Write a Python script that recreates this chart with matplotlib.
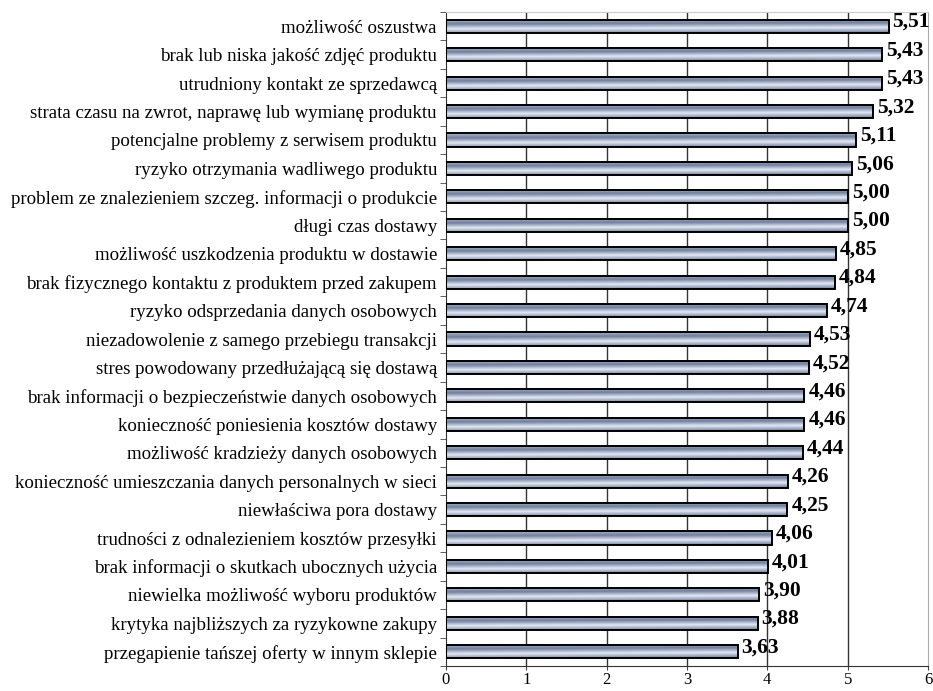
import matplotlib
matplotlib.use("Agg")
import matplotlib.pyplot as plt
import numpy as np
from matplotlib.patches import Rectangle

categories = [
    "możliwość oszustwa",
    "brak lub niska jakość zdjęć produktu",
    "utrudniony kontakt ze sprzedawcą",
    "strata czasu na zwrot, naprawę lub wymianę produktu",
    "potencjalne problemy z serwisem produktu",
    "ryzyko otrzymania wadliwego produktu",
    "problem ze znalezieniem szczeg. informacji o produkcie",
    "długi czas dostawy",
    "możliwość uszkodzenia produktu w dostawie",
    "brak fizycznego kontaktu z produktem przed zakupem",
    "ryzyko odsprzedania danych osobowych",
    "niezadowolenie z samego przebiegu transakcji",
    "stres powodowany przedłużającą się dostawą",
    "brak informacji o bezpieczeństwie danych osobowych",
    "konieczność poniesienia kosztów dostawy",
    "możliwość kradzieży danych osobowych",
    "konieczność umieszczania danych personalnych w sieci",
    "niewłaściwa pora dostawy",
    "trudności z odnalezieniem kosztów przesyłki",
    "brak informacji o skutkach ubocznych użycia",
    "niewielka możliwość wyboru produktów",
    "krytyka najbliższych za ryzykowne zakupy",
    "przegapienie tańszej oferty w innym sklepie",
]
values = [5.51, 5.43, 5.43, 5.32, 5.11, 5.06, 5.00, 5.00, 4.85, 4.84, 4.74,
          4.53, 4.52, 4.46, 4.46, 4.44, 4.26, 4.25, 4.06, 4.01, 3.90, 3.88, 3.63]
xticks = [0, 1, 2, 3, 4, 5, 6]

plt.rcParams['font.family'] = ['Liberation Serif', 'DejaVu Serif']

fig = plt.figure(figsize=(9.33, 6.91), dpi=100)
ax = fig.add_axes([0.478, 0.0362, 0.5166, 0.9464])

n = len(categories)
ys = np.arange(n)
h = 0.46

dark = np.array([92, 108, 142]) / 255.0
light = np.array([228, 234, 245]) / 255.0

ny, nx = 60, 240
t = np.linspace(0, 1, ny)[:, None]
xx = np.linspace(0, 1, nx)[None, :]
shift = 0.10 * (xx - 0.5)
tp = np.clip(t + shift, 0, 1)
kt = [0.0, 0.3, 0.65, 1.0]
kv = [0.55, 0.15, 1.0, 0.2]
f = np.interp(tp.ravel(), kt, kv).reshape(tp.shape)
img = dark[None, None, :] + (light - dark)[None, None, :] * f[:, :, None]

for y, v in zip(ys, values):
    ax.imshow(img, extent=(0, v, y + h / 2, y - h / 2), aspect='auto',
              interpolation='bilinear', zorder=2)
    ax.add_patch(Rectangle((0, y - h / 2), v, h, fill=False,
                           edgecolor='black', linewidth=1.4, zorder=3))
    ax.text(v + 0.05, y - 0.15, f"{v:.2f}".replace('.', ','), va='center',
            ha='left', fontsize=15.5, fontweight='bold', zorder=4)

ax.set_xlim(0, 6)
ax.set_ylim(n - 0.5, -0.5)
ax.set_xticks(xticks)
ax.set_xticklabels([str(x) for x in xticks], fontsize=12)
ax.set_yticks(ys)
ax.set_yticklabels(categories, fontsize=13.6)
ax.set_yticks(np.arange(-0.5, n, 1), minor=True)
ax.tick_params(axis='y', which='major', length=0, pad=6.5)
ax.tick_params(axis='y', which='minor', length=4, direction='out', color='#444444')
ax.tick_params(axis='x', length=3, direction='out', color='#444444', pad=1)

for xv in xticks[1:-1]:
    ax.axvline(xv, color='#333333', linewidth=1.0, zorder=1)

ax.spines['left'].set_color('#333333')
ax.spines['bottom'].set_color('#333333')
ax.spines['top'].set_color('#cccccc')
ax.spines['right'].set_color('#aaaaaa')

fig.savefig("out.png", dpi=100)
